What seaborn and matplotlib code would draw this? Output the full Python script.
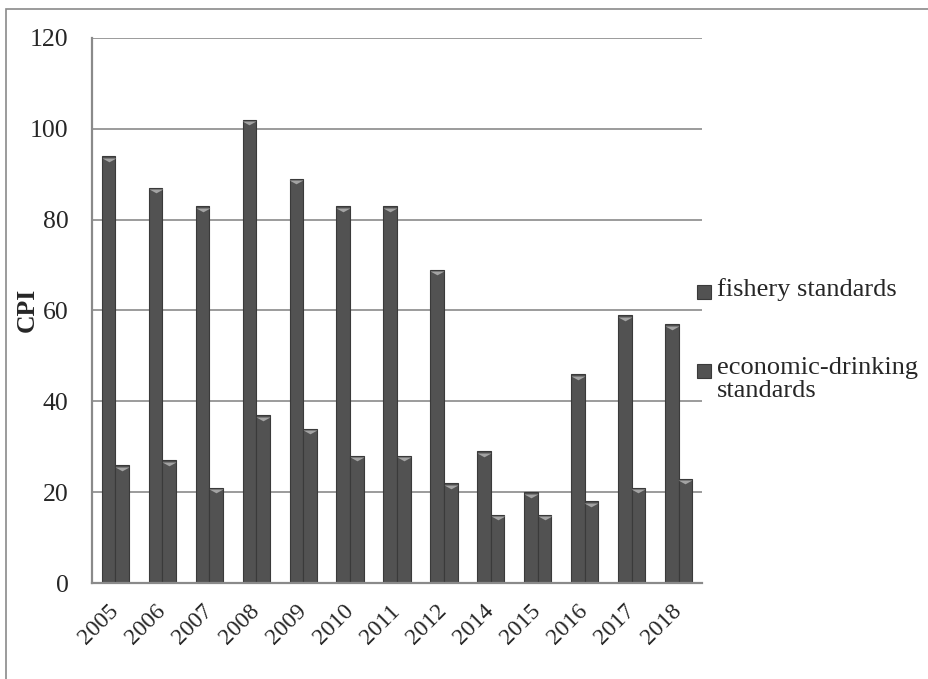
import matplotlib
matplotlib.use("Agg")
import matplotlib.pyplot as plt
from matplotlib.path import Path
from matplotlib.patches import Rectangle
import seaborn as sns
import pandas as pd
import numpy as np

years = ["2005", "2006", "2007", "2008", "2009", "2010", "2011",
         "2012", "2014", "2015", "2016", "2017", "2018"]
fishery = [94, 87, 83, 102, 89, 83, 83, 69, 29, 20, 46, 59, 57]
drinking = [26, 27, 21, 37, 34, 28, 28, 22, 15, 15, 18, 21, 23]
series_names = ["fishery standards", "economic-drinking\nstandards"]
y_ticks = [0, 20, 40, 60, 80, 100, 120]

df = pd.DataFrame({
    "year": years * 2,
    "CPI": fishery + drinking,
    "series": [series_names[0]] * len(years) + [series_names[1]] * len(years),
})

sns.set_theme(style="white")
plt.rcParams["font.family"] = ["Liberation Serif", "DejaVu Serif"]

W, H, DPI = 929, 679, 100
fig = plt.figure(figsize=(W / DPI, H / DPI), dpi=DPI)
ax = fig.add_axes([92 / W, 1 - 583 / H, (702 - 92) / W, (583 - 38) / H])

bar_face = "#525252"
bar_edge = "#3a3a3a"
sns.barplot(data=df, x="year", y="CPI", hue="series", order=years,
            hue_order=series_names, palette=[bar_face, bar_face],
            width=0.58, gap=0, dodge=True, ax=ax, legend=False,
            edgecolor=bar_edge, linewidth=0.8, saturation=1)

# bevel triangles on top of every bar
tri = Path([(-1.0, 0.0), (1.0, 0.0), (0.0, -0.55), (-1.0, 0.0)],
           [Path.MOVETO, Path.LINETO, Path.LINETO, Path.CLOSEPOLY])
for p in ax.patches:
    h = p.get_height()
    if h <= 0:
        continue
    cx = p.get_x() + p.get_width() / 2
    ax.plot([cx], [h - 0.35], marker=tri, markersize=10, color="#a3a3a3",
            markeredgewidth=0, zorder=4, clip_on=False)

ax.set_ylim(0, 120)
ax.set_xlim(-0.5, len(years) - 0.5)
ax.set_yticks(y_ticks)
ax.set_yticklabels([str(t) for t in y_ticks], fontsize=18.5)
ax.set_xticks(range(len(years)))
ax.set_xticklabels(years, rotation=45, ha="right", va="center",
                   rotation_mode="anchor", fontsize=17)
ax.set_xticks(np.arange(-0.5, len(years), 1.0), minor=True)
ax.tick_params(axis="x", which="major", length=0, pad=18)
ax.tick_params(axis="x", which="minor", length=5, width=1.2, direction="in",
               color="#868686")
ax.tick_params(axis="y", length=0, pad=17)

ax.yaxis.grid(True, color="#8a8a8a", linewidth=1.2)
ax.set_axisbelow(True)
for side in ["top", "right"]:
    ax.spines[side].set_visible(False)
for side in ["left", "bottom"]:
    ax.spines[side].set_color("#8a8a8a")
    ax.spines[side].set_linewidth(1.6)

ax.set_xlabel("")
ax.set_ylabel("")
fig.text(27 / W, 1 - 310 / H, "CPI", rotation=90, fontsize=18.5,
         fontweight="bold", ha="center", va="center")

# legend: square key beside the first line of each label
legend_rows = [292, 371]
for name, yc in zip(series_names, legend_rows):
    fig.add_artist(Rectangle((697 / W, 1 - (yc + 7) / H), 14 / W, 14 / H,
                             transform=fig.transFigure, facecolor=bar_face,
                             edgecolor=bar_edge, linewidth=0.8))
    fig.text(717 / W, 1 - (yc - 14) / H, name, fontsize=19, ha="left",
             va="top", linespacing=1.05)

# outer chart frame
fig.add_artist(Rectangle((6 / W, -0.05), 1.1, 1 - 9 / H + 0.05,
                         transform=fig.transFigure, fill=False,
                         edgecolor="#8a8a8a", linewidth=1.2))

fig.savefig("out.png", dpi=DPI)
